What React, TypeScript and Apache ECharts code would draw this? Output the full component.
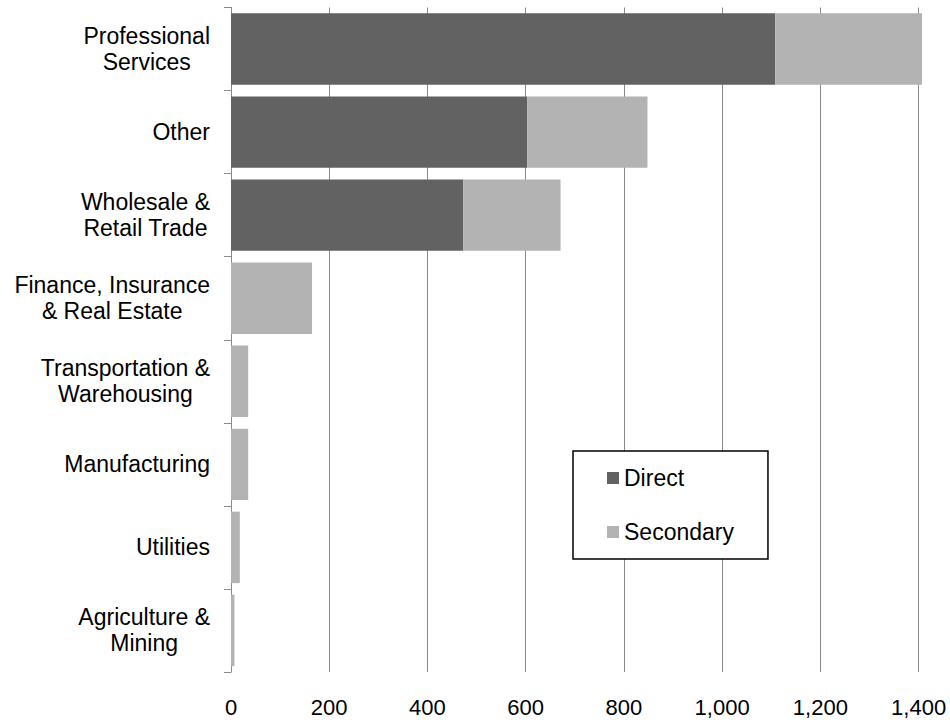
import React, { useEffect, useRef } from "react";
import * as echarts from "echarts";

const categories = [
  "Professional\nServices",
  "Other",
  "Wholesale &\nRetail Trade",
  "Finance, Insurance\n& Real Estate",
  "Transportation &\nWarehousing",
  "Manufacturing",
  "Utilities",
  "Agriculture &\nMining",
];
const directValues = [1108, 603, 473, 0, 0, 0, 0, 0];
const secondaryValues = [299, 245, 198, 165, 35, 35, 18, 7];
const xTicks = { min: 0, max: 1400, interval: 200 };

const FONT = "'Liberation Sans', Arial, sans-serif";

export default function App() {
  const ref = useRef<HTMLDivElement>(null);
  useEffect(() => {
    if (!ref.current) return;
    const chart = echarts.init(ref.current, undefined, { renderer: "svg" });
    chart.setOption({
      animation: false,
      backgroundColor: "#ffffff",
      textStyle: { fontFamily: FONT },
      grid: { left: 231, right: 31.4, top: 7.5, bottom: 51, containLabel: false },
      xAxis: {
        type: "value",
        min: xTicks.min,
        max: xTicks.max,
        interval: xTicks.interval,
        axisLine: { show: false },
        axisTick: { show: false },
        splitLine: { show: true, lineStyle: { color: "#8a8a8a", width: 1 } },
        axisLabel: {
          color: "#000",
          fontSize: 22,
          fontFamily: FONT,
          margin: 24,
          formatter: (v: number) => v.toLocaleString("en-US"),
        },
      },
      yAxis: {
        type: "category",
        data: categories,
        inverse: true,
        axisLine: { show: true, lineStyle: { color: "#8a8a8a", width: 1 } },
        axisTick: { show: true, length: 7, lineStyle: { color: "#8a8a8a" } },
        axisLabel: {
          color: "#000",
          fontSize: 23,
          fontFamily: FONT,
          margin: 21,
          align: "right",
          formatter: (v: string) =>
            v
              .split("\n")
              .map((l) => `{c|${l}}`)
              .join("\n"),
          rich: {
            c: {
              align: "center",
              fontSize: 23,
              lineHeight: 26,
              fontFamily: FONT,
              color: "#000",
            },
          },
        },
      },
      legend: {
        orient: "vertical",
        left: 573,
        top: 451,
        padding: [15.5, 34, 15.5, 34],
        itemGap: 31,
        itemWidth: 12,
        itemHeight: 12,
        borderColor: "#000",
        borderWidth: 1.5,
        backgroundColor: "#fff",
        textStyle: { fontSize: 23, color: "#000", fontFamily: FONT },
        data: [
          { name: "Direct", icon: "rect" },
          { name: "Secondary", icon: "rect" },
        ],
      },
      series: [
        {
          name: "Direct",
          type: "bar",
          stack: "total",
          clip: false,
          barCategoryGap: "14%",
          data: directValues,
          itemStyle: { color: "#626262" },
        },
        {
          name: "Secondary",
          type: "bar",
          stack: "total",
          clip: false,
          barCategoryGap: "14%",
          data: secondaryValues,
          itemStyle: { color: "#b3b3b3" },
        },
      ],
    });
    return () => chart.dispose();
  }, []);
  return (
    <div
      ref={ref}
      style={{ position: "fixed", left: 0, top: 0, width: 950, height: 723 }}
    />
  );
}
